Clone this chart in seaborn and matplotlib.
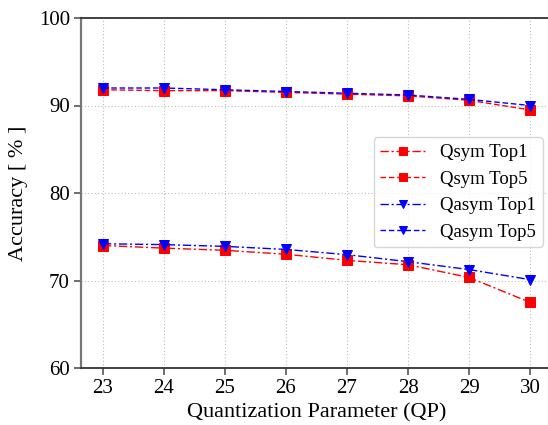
import matplotlib
matplotlib.use("Agg")
import matplotlib.pyplot as plt
import seaborn as sns
import pandas as pd

qp = [23, 24, 25, 26, 27, 28, 29, 30]
qsym_top1 = [74.0, 73.7, 73.45, 73.0, 72.3, 71.8, 70.35, 67.5]
qsym_top5 = [91.8, 91.7, 91.7, 91.5, 91.3, 91.1, 90.6, 89.5]
qasym_top1 = [74.2, 74.1, 73.9, 73.55, 72.95, 72.15, 71.25, 70.1]
qasym_top5 = [92.0, 92.0, 91.8, 91.6, 91.4, 91.2, 90.7, 90.0]
yticks = [60, 70, 80, 90, 100]

sns.set_theme(style="white")
plt.rcParams['font.family'] = ['Liberation Serif', 'DejaVu Serif']
plt.rcParams['mathtext.fontset'] = 'stix'
plt.rcParams['text.color'] = 'black'
plt.rcParams['axes.labelcolor'] = 'black'
plt.rcParams['xtick.labelcolor'] = 'black'
plt.rcParams['ytick.labelcolor'] = 'black'

fig = plt.figure(figsize=(5.48, 4.25), dpi=100)
ax = fig.add_axes([81/548, 57/425, 471/548, 350/425])

series = [
    ("Qsym Top1", qsym_top1, "red", "s", (0, (6, 2, 1.5, 2))),
    ("Qsym Top5", qsym_top5, "red", "s", (0, (4, 2))),
    ("Qasym Top1", qasym_top1, "blue", "v", (0, (6, 2, 1.5, 2))),
    ("Qasym Top5", qasym_top5, "blue", "v", (0, (4, 2))),
]
for name, vals, col, mk, ls in series:
    df = pd.DataFrame({"qp": qp, "acc": vals})
    sns.lineplot(data=df, x="qp", y="acc", ax=ax, color=col, marker=mk,
                 markersize=7.5, markeredgecolor=col, linewidth=1.0,
                 linestyle=ls, label=name)

ax.set_xlim(22.64, 30.36)
ax.set_ylim(60, 100)
ax.set_xticks(qp)
ax.set_yticks(yticks)
ax.grid(True, linestyle=(0, (1, 2)), color="#bbbbbb", linewidth=0.8)
ax.tick_params(axis="both", which="major", direction="out", length=5,
               width=1.2, labelsize=15, color="#555555", left=True, bottom=True, pad=3)
ax.set_xlabel("Quantization Parameter (QP)", fontsize=16, labelpad=4)
ax.set_ylabel("Accuracy [ % ]", fontsize=16, labelpad=8)
for s in ["top", "bottom"]:
    ax.spines[s].set_color("#333333")
    ax.spines[s].set_linewidth(1.3)
ax.spines["left"].set_color("#777777")
ax.spines["left"].set_linewidth(1.6)
ax.spines["right"].set_visible(False)

leg = ax.legend(loc="upper right", bbox_to_anchor=(552/548, 297/425),
                bbox_transform=fig.transFigure, fontsize=13.5, frameon=True,
                handlelength=2.4, borderpad=0.35, labelspacing=0.5,
                markerscale=0.8)
leg.get_frame().set_edgecolor("#cccccc")

fig.savefig("out.png", dpi=100)
